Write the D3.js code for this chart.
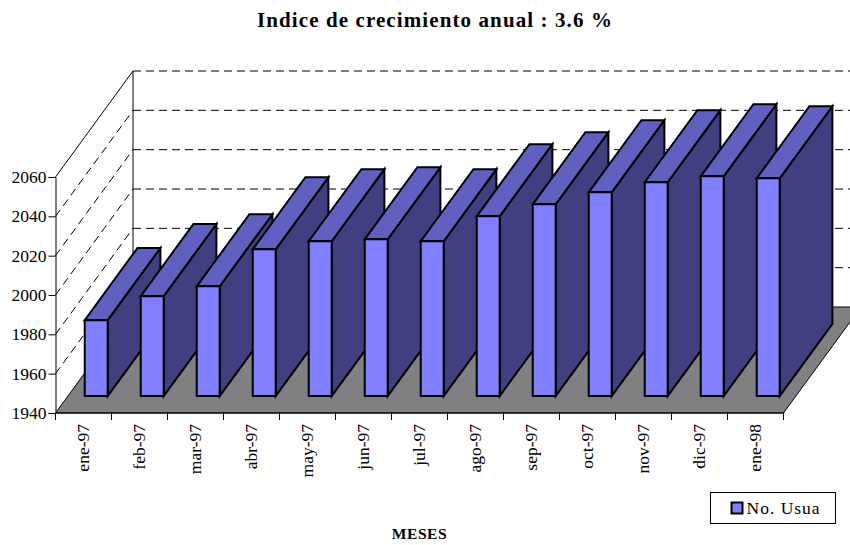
<!DOCTYPE html>
<html>
<head>
<meta charset="utf-8">
<script src="https://cdn.jsdelivr.net/npm/d3@7"></script>
<style>
  html, body { margin: 0; padding: 0; background: #fff; overflow: hidden; }
  text { font-family: "Liberation Serif", serif; fill: #000; }
</style>
</head>
<body>
<div id="chart"></div>
<script>
const months = ["ene-97", "feb-97", "mar-97", "abr-97", "may-97", "jun-97", "jul-97",
  "ago-97", "sep-97", "oct-97", "nov-97", "dic-97", "ene-98"];
const usuarios = [1978.6, 1990.8, 1995.8, 2014.6, 2018.7, 2019.7, 2018.7, 2031.4, 2037.5, 2043.6, 2048.7, 2051.7, 2050.7];
const yTicks = [1940, 1960, 1980, 2000, 2020, 2040, 2060];

const width = 850, height = 545;

// front plane of the box, the back wall is the same thing pushed by depth
const x = d3.scaleBand().domain(months).range([55.8, 783.8]).paddingInner(0.59).paddingOuter(0.295);
const slots = d3.scaleBand().domain(months).range([55.5, 783.5]);
const y = d3.scaleLinear().domain([1940, 2060]).range([413, 177]);

// depth: 0 = front of the floor, 1 = back wall
const depthX = 77.5, depthY = -106;
const px = (xv, d) => xv + d * depthX;
const py = (yv, d) => yv + d * depthY;
const pt = (xv, yv, d) => [px(xv, d), py(yv, d)];
const barFront = 0.16, barBack = 0.84;

const poly = pts => "M" + pts.map(p => p.join(",")).join("L") + "Z";

const svg = d3.select("#chart").append("svg")
  .attr("width", width).attr("height", height)
  .style("display", "block");

svg.append("defs").append("clipPath").attr("id", "plot")
  .append("rect").attr("width", width).attr("height", height);

const plot = svg.append("g").attr("clip-path", "url(#plot)");

const x0 = slots.range()[0], x1 = slots.range()[1];
const dash = "8,5";

// Gridlines on the back wall and left wall
plot.selectAll("line.back").data(yTicks.slice(1))
  .enter().append("line").attr("class", "back")
  .attr("x1", px(x0, 1)).attr("x2", px(x1, 1))
  .attr("y1", d => py(y(d), 1)).attr("y2", d => py(y(d), 1))
  .attr("stroke", "#000").attr("stroke-dasharray", dash);

plot.selectAll("line.side").data(yTicks.slice(1, -1))
  .enter().append("line").attr("class", "side")
  .attr("x1", px(x0, 0)).attr("x2", px(x0, 1))
  .attr("y1", d => py(y(d), 0)).attr("y2", d => py(y(d), 1))
  .attr("stroke", "#000").attr("stroke-dasharray", dash);

// Left wall edges
plot.append("line")
  .attr("x1", px(x0, 1)).attr("x2", px(x0, 1))
  .attr("y1", py(y(2060), 1)).attr("y2", py(y(1940), 1))
  .attr("stroke", "#000");
plot.append("line")
  .attr("x1", px(x0, 0)).attr("x2", px(x0, 1))
  .attr("y1", py(y(2060), 0)).attr("y2", py(y(2060), 1))
  .attr("stroke", "#000");

// Floor
plot.append("path")
  .attr("d", poly([pt(x0, y(1940), 0), pt(x1, y(1940), 0), pt(x1, y(1940), 1), pt(x0, y(1940), 1)]))
  .attr("fill", "#808080").attr("stroke", "#000").attr("stroke-width", 1);

// Bars, left to right so each one overlaps the previous
const bars = plot.selectAll("g.bar")
  .data(months.map((m, i) => ({ month: m, value: usuarios[i] })))
  .enter().append("g").attr("class", "bar")
  .attr("stroke", "#000").attr("stroke-width", 2).attr("stroke-linejoin", "miter");

const base = y(1940);

// side face
bars.append("path").attr("fill", "#404080").attr("d", d => {
  const r = x(d.month) + x.bandwidth();
  return poly([pt(r, base, barFront), pt(r, base, barBack), pt(r, y(d.value), barBack), pt(r, y(d.value), barFront)]);
});
// top face
bars.append("path").attr("fill", "#6060c0").attr("d", d => {
  const l = x(d.month), r = l + x.bandwidth();
  return poly([pt(l, y(d.value), barFront), pt(r, y(d.value), barFront), pt(r, y(d.value), barBack), pt(l, y(d.value), barBack)]);
});
// front face
bars.append("path").attr("fill", "#8080ff").attr("d", d => {
  const l = x(d.month), r = l + x.bandwidth();
  return poly([pt(l, base, barFront), pt(r, base, barFront), pt(r, y(d.value), barFront), pt(l, y(d.value), barFront)]);
});

// Y axis
const yAxis = svg.append("g")
  .attr("transform", `translate(${x0},0)`)
  .call(d3.axisLeft(y).tickValues(yTicks).tickFormat(d3.format("d")).tickSize(7).tickPadding(2));
yAxis.selectAll("text").style("font-size", "17.5px");
yAxis.select(".domain").attr("stroke", "#000");

// X axis
const xAxis = svg.append("g")
  .attr("transform", `translate(0,${y(1940)})`);
xAxis.append("line")
  .attr("x1", x0).attr("x2", x1).attr("stroke", "#000");
xAxis.selectAll("line.tick").data(months.concat("end"))
  .enter().append("line").attr("class", "tick")
  .attr("x1", (d, i) => x0 + i * slots.step())
  .attr("x2", (d, i) => x0 + i * slots.step())
  .attr("y1", 0).attr("y2", 7).attr("stroke", "#000");
xAxis.selectAll("text").data(months)
  .enter().append("text")
  .attr("transform", d => `translate(${slots(d) + slots.bandwidth() / 2 - 0.5},11) rotate(-90)`)
  .attr("text-anchor", "end")
  .attr("dy", "0.35em")
  .style("font-size", "17.5px")
  .text(d => d);

// Title and axis label
svg.append("text")
  .attr("x", 435).attr("y", 27)
  .attr("text-anchor", "middle")
  .style("font-size", "21px").style("font-weight", "bold").style("letter-spacing", "1.1px")
  .text("Indice de crecimiento anual : 3.6 %");

svg.append("text")
  .attr("x", 419.5).attr("y", 539)
  .attr("text-anchor", "middle")
  .style("font-size", "15.5px").style("font-weight", "bold").style("letter-spacing", "0.6px")
  .text("MESES");

// Legend
const legend = svg.append("g").attr("transform", "translate(710.5,492.5)");
legend.append("rect")
  .attr("width", 125).attr("height", 31)
  .attr("fill", "#fff").attr("stroke", "#000");
legend.append("rect")
  .attr("x", 21).attr("y", 10).attr("width", 11).attr("height", 11)
  .attr("fill", "#8080ff").attr("stroke", "#000").attr("stroke-width", 2);
legend.append("text")
  .attr("x", 36).attr("y", 21)
  .style("font-size", "17.5px").style("letter-spacing", "1px")
  .text("No. Usua");
</script>
</body>
</html>
